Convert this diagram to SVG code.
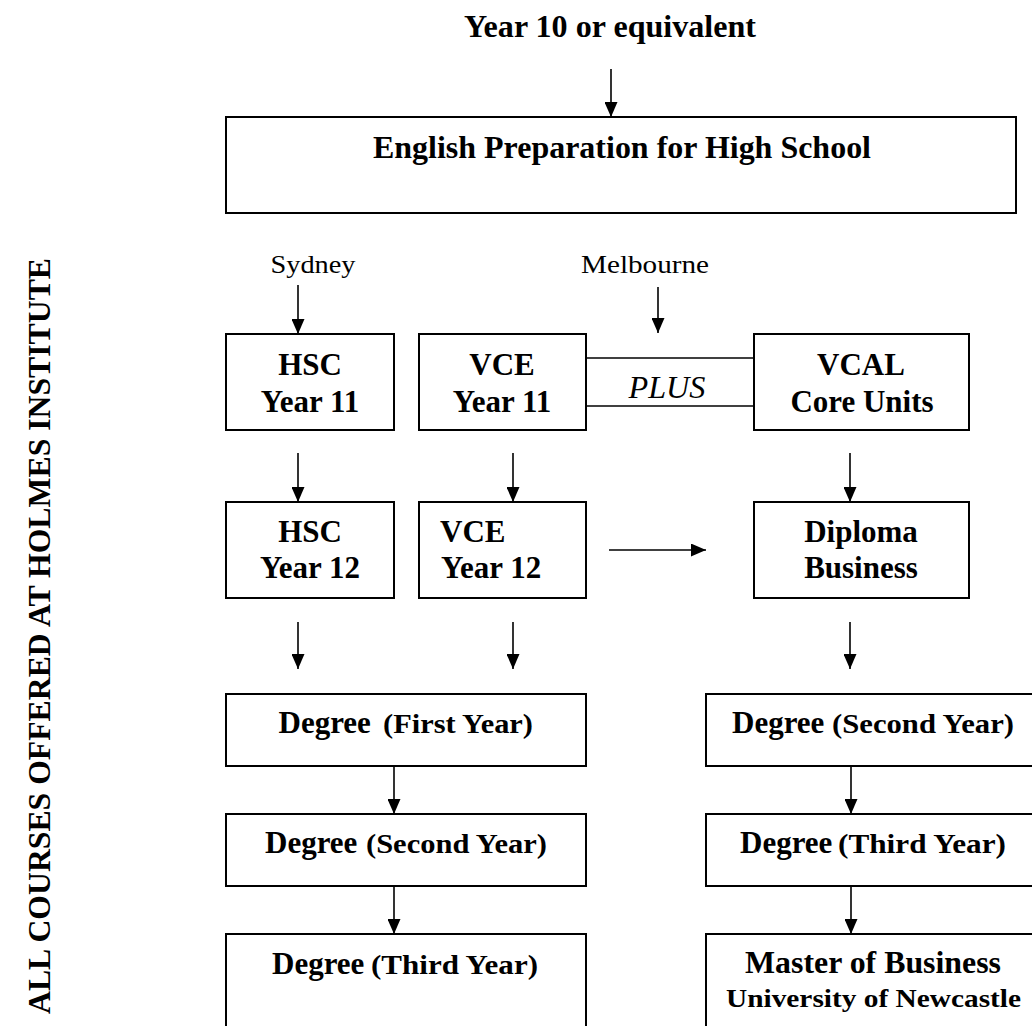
<svg xmlns="http://www.w3.org/2000/svg" width="1032" height="1026" viewBox="0 0 1032 1026">
<style>
.box{fill:none;stroke:#000;stroke-width:2}
.ln{fill:none;stroke:#000;stroke-width:1.6}
text{font-family:"Liberation Serif","Times New Roman",serif;fill:#000}
.b{font-weight:bold;font-size:31px}
.s{font-weight:bold;font-size:27px}
.u{font-weight:bold;font-size:26px}
.r{font-size:25px}
.i{font-style:italic;font-size:31px}
.m{text-anchor:middle}
</style>
<defs>
<marker id="ah" markerUnits="userSpaceOnUse" markerWidth="15" markerHeight="13" viewBox="0 0 15 13" refX="15" refY="6.5" orient="auto">
<path d="M0,0 L15,6.5 L0,13 z" fill="#000"/>
</marker>
</defs>
<rect width="1032" height="1026" fill="#fff"/>

<text class="b" x="0" y="0" transform="translate(50,636) rotate(-90)" text-anchor="middle" textLength="756" lengthAdjust="spacingAndGlyphs">ALL COURSES OFFERED AT HOLMES INSTITUTE</text>

<g id="start"><text class="b m" x="610" y="37" textLength="292" lengthAdjust="spacingAndGlyphs">Year 10 or equivalent</text></g>

<g id="english"><rect class="box" x="226" y="117" width="790" height="96"/>
<text class="b m" x="622" y="158" style="font-size:32px" textLength="498" lengthAdjust="spacingAndGlyphs">English Preparation for High School</text></g>

<g id="sydney"><text class="r m" x="313" y="273" textLength="85" lengthAdjust="spacingAndGlyphs">Sydney</text></g>
<g id="melbourne"><text class="r m" x="645" y="273" textLength="128" lengthAdjust="spacingAndGlyphs">Melbourne</text></g>

<g id="hsc11"><rect class="box" x="226" y="334" width="168" height="96"/>
<text class="b m" x="310" y="375">HSC</text><text class="b m" x="310" y="412">Year 11</text></g>

<g id="vce11"><rect class="box" x="419" y="334" width="167" height="96"/>
<text class="b m" x="502" y="375">VCE</text><text class="b m" x="502" y="412">Year 11</text></g>

<g id="plus"><line class="ln" x1="586" y1="358" x2="754" y2="358"/><line class="ln" x1="586" y1="406" x2="754" y2="406"/>
<text class="i m" x="667" y="398" textLength="77" lengthAdjust="spacingAndGlyphs">PLUS</text></g>

<g id="vcal"><rect class="box" x="754" y="334" width="215" height="96"/>
<text class="b m" x="861" y="375">VCAL</text><text class="b m" x="862" y="412">Core Units</text></g>

<g id="hsc12"><rect class="box" x="226" y="502" width="168" height="96"/>
<text class="b m" x="310" y="542">HSC</text><text class="b m" x="310" y="578">Year 12</text></g>

<g id="vce12"><rect class="box" x="419" y="502" width="167" height="96"/>
<text class="b" x="440" y="542">VCE</text><text class="b" x="441" y="578">Year 12</text></g>

<g id="diploma"><rect class="box" x="754" y="502" width="215" height="96"/>
<text class="b m" x="861" y="542">Diploma</text><text class="b m" x="861" y="578">Business</text></g>

<g id="deg1"><rect class="box" x="226" y="694" width="360" height="72"/>
<text class="b" x="278.5" y="733">Degree</text><text class="s" x="383" y="733" textLength="150" lengthAdjust="spacingAndGlyphs">(First Year)</text></g>

<g id="deg2"><rect class="box" x="226" y="814" width="360" height="72"/>
<text class="b" x="265" y="853">Degree</text><text class="s" x="366" y="853" textLength="181" lengthAdjust="spacingAndGlyphs">(Second Year)</text></g>

<g id="deg3"><rect class="box" x="226" y="934" width="360" height="110"/>
<text class="b" x="272" y="974">Degree</text><text class="s" x="371" y="974" textLength="167" lengthAdjust="spacingAndGlyphs">(Third Year)</text></g>

<g id="rdeg2"><rect class="box" x="706" y="694" width="340" height="72"/>
<text class="b" x="732" y="733">Degree</text><text class="s" x="832" y="733" textLength="182" lengthAdjust="spacingAndGlyphs">(Second Year)</text></g>

<g id="rdeg3"><rect class="box" x="706" y="814" width="340" height="72"/>
<text class="b" x="740" y="853">Degree</text><text class="s" x="838" y="853" textLength="168" lengthAdjust="spacingAndGlyphs">(Third Year)</text></g>

<g id="master"><rect class="box" x="706" y="934" width="340" height="110"/>
<text class="b m" x="873" y="973" textLength="256" lengthAdjust="spacingAndGlyphs">Master of Business</text>
<text class="u m" x="873.5" y="1007" textLength="295" lengthAdjust="spacingAndGlyphs">University of Newcastle</text></g>

<g id="connectors">
<line class="ln" x1="611" y1="69" x2="611" y2="117" marker-end="url(#ah)"/>
<line class="ln" x1="298" y1="285" x2="298" y2="334" marker-end="url(#ah)"/>
<line class="ln" x1="658" y1="287" x2="658" y2="333" marker-end="url(#ah)"/>
<line class="ln" x1="298" y1="453" x2="298" y2="502" marker-end="url(#ah)"/>
<line class="ln" x1="513" y1="453" x2="513" y2="502" marker-end="url(#ah)"/>
<line class="ln" x1="850" y1="453" x2="850" y2="502" marker-end="url(#ah)"/>
<line class="ln" x1="609" y1="550" x2="706" y2="550" marker-end="url(#ah)"/>
<line class="ln" x1="298" y1="622" x2="298" y2="669" marker-end="url(#ah)"/>
<line class="ln" x1="513" y1="622" x2="513" y2="669" marker-end="url(#ah)"/>
<line class="ln" x1="850" y1="622" x2="850" y2="669" marker-end="url(#ah)"/>
<line class="ln" x1="394" y1="766" x2="394" y2="814" marker-end="url(#ah)"/>
<line class="ln" x1="394" y1="886" x2="394" y2="934" marker-end="url(#ah)"/>
<line class="ln" x1="851" y1="766" x2="851" y2="814" marker-end="url(#ah)"/>
<line class="ln" x1="851" y1="886" x2="851" y2="934" marker-end="url(#ah)"/>
</g>
</svg>
